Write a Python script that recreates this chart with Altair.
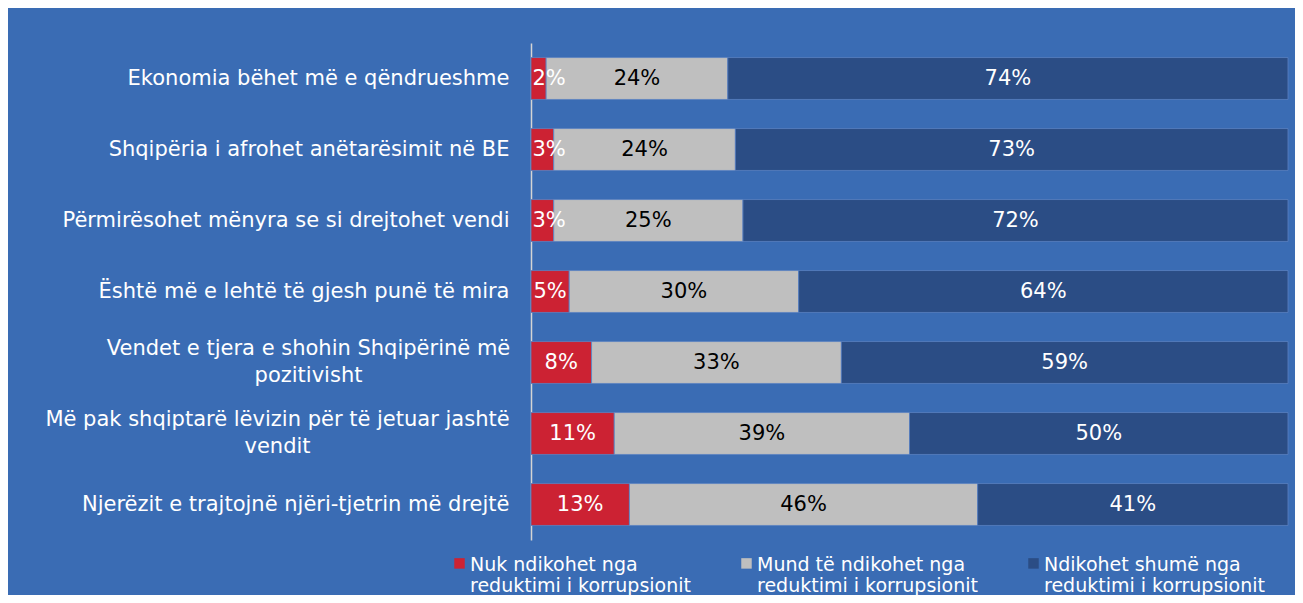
import json
import altair as alt
import pandas as pd

categories = [
    "Ekonomia bëhet më e qëndrueshme",
    "Shqipëria i afrohet anëtarësimit në BE",
    "Përmirësohet mënyra se si drejtohet vendi\u00a0",
    "Është më e lehtë të gjesh punë të mira",
    "Vendet e tjera e shohin Shqipërinë më pozitivisht",
    "Më pak shqiptarë lëvizin për të jetuar jashtë vendit",
    "Njerëzit e trajtojnë njëri-tjetrin më drejtë",
]
label_lines = {
    "Vendet e tjera e shohin Shqipërinë më pozitivisht": ["Vendet e tjera e shohin Shqipërinë më", "pozitivisht"],
    "Më pak shqiptarë lëvizin për të jetuar jashtë vendit": ["Më pak shqiptarë lëvizin për të jetuar jashtë", "vendit"],
}
series = [
    "Nuk ndikohet nga reduktimi i korrupsionit",
    "Mund të ndikohet nga reduktimi i korrupsionit",
    "Ndikohet shumë nga reduktimi i korrupsionit",
]
not_affected = [2, 3, 3, 5, 8, 11, 13]
may_be_affected = [24, 24, 25, 30, 33, 39, 46]
much_affected = [74, 73, 72, 64, 59, 50, 41]

colors = ["#cc2233", "#bfbfbf", "#2b4d85"]
text_colors = ["white", "black", "white"]
BG = "#3a6cb4"
FONT = "DejaVu Sans"

rows = []
for i, cat in enumerate(categories):
    vals = [not_affected[i], may_be_affected[i], much_affected[i]]
    total = sum(vals)
    start = 0.0
    for j, v in enumerate(vals):
        end = start + v / total
        mid = (start + end) / 2
        if j == 0:
            mid = max(mid, 0.024)
        rows.append({
            "category": cat, "series": series[j], "order": j, "value": v,
            "start": start, "end": end, "mid": mid,
            "label": f"{v}%", "tcolor": text_colors[j],
        })
        start = end
df = pd.DataFrame(rows)

multi_keys = list(label_lines)
label_expr = f"({json.dumps(label_lines, ensure_ascii=False)})[datum.label] || datum.label"


def is_cat(k):
    return f"datum.value == {json.dumps(k, ensure_ascii=False)}"


any_multi = " || ".join(is_cat(k) for k in multi_keys)

y_enc = alt.Y(
    "category:N", sort=categories, title=None,
    scale=alt.Scale(paddingInner=0.41, paddingOuter=0.205),
    axis=alt.Axis(
        domain=True, domainColor="#d4d4d4", domainWidth=1.5, ticks=False,
        labelColor="white", labelFont=FONT, labelFontSize=21, labelLimit=700,
        labelLineHeight=27,
        labelPadding={"condition": [
            {"test": is_cat(multi_keys[0]), "value": 223},
            {"test": is_cat(multi_keys[1]), "value": 254},
        ], "value": 22},
        labelAlign={"condition": {"test": any_multi, "value": "center"}, "value": "right"},
        labelOffset={"condition": {"test": any_multi, "value": -14}, "value": 0},
        labelExpr=label_expr,
    ),
)
x_scale = alt.Scale(domain=[0, 1], nice=False, zero=True)

symbol_path = "M-1,-2.4H1V-0.4H-1Z"

bars = alt.Chart(df).mark_bar(stroke="#5a82c2", strokeWidth=0.8).encode(
    y=y_enc,
    x=alt.X("start:Q", scale=x_scale, axis=None),
    x2="end:Q",
    color=alt.Color(
        "series:N", sort=series,
        scale=alt.Scale(domain=series, range=colors),
        legend=alt.Legend(
            orient="none", legendX=-81, legendY=518, direction="horizontal",
            columns=3, title=None, symbolType=symbol_path, symbolSize=110,
            symbolStrokeWidth=0, labelColor="white", labelFont=FONT,
            labelFontSize=19, labelLimit=500, labelBaseline="alphabetic",
            labelOffset=1, columnPadding=46,
            labelExpr="split(replace(datum.label, ' nga ', ' nga|'), '|')",
        ),
    ),
    order=alt.Order("order:Q"),
)

texts = alt.Chart(df).mark_text(font=FONT, fontSize=21, baseline="middle", align="center").encode(
    y=alt.Y("category:N", sort=categories),
    x=alt.X("mid:Q", scale=x_scale),
    text="label:N",
    color=alt.Color("tcolor:N", scale=None),
)

chart = alt.layer(bars, texts).properties(
    width=757, height=497,
    padding={"left": 523, "top": 35, "right": 7, "bottom": 55},
    autosize=alt.AutoSizeParams(type="none"),
    background=BG,
).configure_view(stroke=None)

chart.save("out.html", embed_options={"renderer": "svg", "actions": False})
